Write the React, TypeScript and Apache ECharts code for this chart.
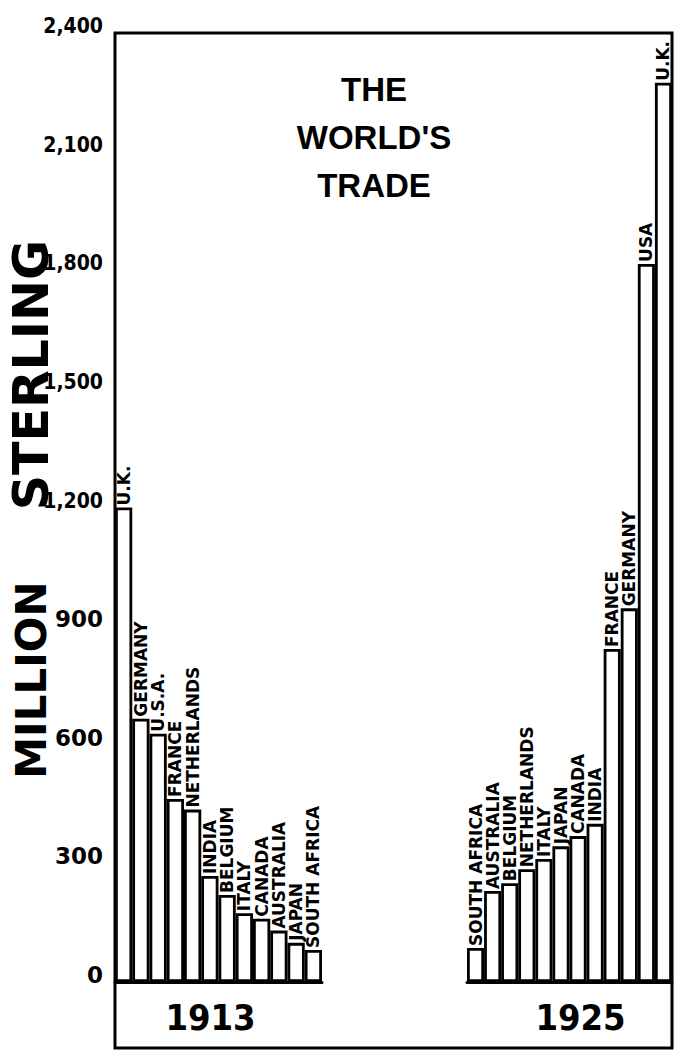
import React, { useEffect, useRef } from "react";
import * as echarts from "echarts";

const countries1913 = ["U.K.", "GERMANY", "U.S.A.", "FRANCE", "NETHERLANDS", "INDIA", "BELGIUM", "ITALY", "CANADA", "AUSTRALIA", "JAPAN", "SOUTH AFRICA"];
const trade1913 = [1200, 666, 628, 463, 436, 268, 220, 174, 160, 130, 99, 81];

const countries1925 = ["SOUTH AFRICA", "AUSTRALIA", "BELGIUM", "NETHERLANDS", "ITALY", "JAPAN", "CANADA", "INDIA", "FRANCE", "GERMANY", "USA", "U.K."];
const trade1925 = [86, 230, 250, 285, 311, 343, 369, 400, 842, 945, 1816, 2274];

const yearLabels = ["1913", "1925"];
const yTitleParts = ["MILLION", "STERLING"];
const titleText = "THE\nWORLD'S\nTRADE";

const Y_MIN = 0;
const Y_MAX = 2400;
const Y_INTERVAL = 300;

export default function App() {
  const ref = useRef<HTMLDivElement>(null);

  useEffect(() => {
    if (!ref.current) return;
    const chart = echarts.init(ref.current, null, { renderer: "svg" });

    const barLabel = {
      show: true,
      position: "top",
      distance: 2,
      rotate: 90,
      align: "left",
      verticalAlign: "middle",
      color: "#000",
      fontFamily: "'DejaVu Sans', sans-serif",
      fontWeight: "bold",
      fontSize: 17,
      formatter: (p: any) => p.name,
    };

    const barStyle = {
      color: "#fff",
      borderColor: "#000",
      borderWidth: 2.8,
    };

    const yearNameStyle = {
      fontFamily: "'DejaVu Sans Condensed', 'DejaVu Sans', sans-serif",
      fontWeight: "bold",
      fontSize: 36,
      color: "#000",
    };

    const option: any = {
      animation: false,
      backgroundColor: "#fff",
      title: {
        text: titleText,
        left: 369,
        top: 60,
        textAlign: "center",
        textStyle: {
          fontFamily: "'Liberation Sans', Arial, sans-serif",
          fontWeight: "bold",
          fontSize: 33,
          lineHeight: 48,
          color: "#000",
        },
      },
      grid: [
        { left: 115, top: 33, width: 207, height: 949 },
        { left: 467, top: 33, width: 205, height: 949 },
        { left: 115, top: 33, width: 557, height: 1015, show: true, borderColor: "#000", borderWidth: 3, backgroundColor: "transparent" },
      ],
      xAxis: [
        {
          type: "category",
          gridIndex: 0,
          data: countries1913,
          axisLine: { show: true, lineStyle: { color: "#000", width: 3 } },
          axisTick: { show: false },
          axisLabel: { show: false },
          name: yearLabels[0],
          nameLocation: "middle",
          nameGap: 17,
          nameTextStyle: { ...yearNameStyle, padding: [0, 16, 0, 0] },
        },
        {
          type: "category",
          gridIndex: 1,
          data: countries1925,
          axisLine: { show: true, lineStyle: { color: "#000", width: 3 } },
          axisTick: { show: false },
          axisLabel: { show: false },
          name: yearLabels[1],
          nameLocation: "middle",
          nameGap: 17,
          nameTextStyle: { ...yearNameStyle, padding: [0, 0, 0, 22] },
        },
        { type: "value", gridIndex: 2, show: false },
      ],
      yAxis: [
        {
          type: "value",
          gridIndex: 0,
          min: Y_MIN,
          max: Y_MAX,
          interval: Y_INTERVAL,
          axisLine: { show: false },
          axisTick: { show: false },
          splitLine: { show: false },
          axisLabel: {
            margin: 12,
            padding: [0, 0, 14, 0],
            formatter: (v: number) => {
              const s = v.toLocaleString("en-US");
              return v >= 1000 ? "{b|" + s + "}" : "{a|" + s + "}";
            },
            rich: {
              a: {
                fontFamily: "'DejaVu Sans', sans-serif",
                fontWeight: "bold",
                fontSize: 23,
                color: "#000",
              },
              b: {
                fontFamily: "'DejaVu Sans Condensed', 'DejaVu Sans', sans-serif",
                fontWeight: "bold",
                fontSize: 21,
                color: "#000",
              },
            },
          },
        },
        {
          type: "value",
          gridIndex: 1,
          min: Y_MIN,
          max: Y_MAX,
          interval: Y_INTERVAL,
          show: false,
        },
        { type: "value", gridIndex: 2, show: false },
      ],
      graphic: [
        {
          type: "text",
          x: 31,
          y: 375,
          rotation: Math.PI / 2,
          style: {
            text: yTitleParts[1],
            font: "bold 49px 'DejaVu Sans', sans-serif",
            textAlign: "center",
            textVerticalAlign: "middle",
            fill: "#000",
          },
        },
        {
          type: "text",
          x: 31,
          y: 680,
          rotation: Math.PI / 2,
          style: {
            text: yTitleParts[0],
            font: "bold 42px 'DejaVu Sans', sans-serif",
            textAlign: "center",
            textVerticalAlign: "middle",
            fill: "#000",
          },
        },
      ],
      series: [
        {
          type: "bar",
          xAxisIndex: 0,
          yAxisIndex: 0,
          data: trade1913,
          barWidth: "100%",
          itemStyle: barStyle,
          label: barLabel,
        },
        {
          type: "bar",
          xAxisIndex: 1,
          yAxisIndex: 1,
          data: trade1925,
          barWidth: "100%",
          itemStyle: barStyle,
          label: barLabel,
        },
      ],
    };

    chart.setOption(option);
    return () => chart.dispose();
  }, []);

  return (
    <div
      ref={ref}
      style={{ position: "fixed", left: 0, top: 0, width: 677, height: 1053 }}
    />
  );
}
